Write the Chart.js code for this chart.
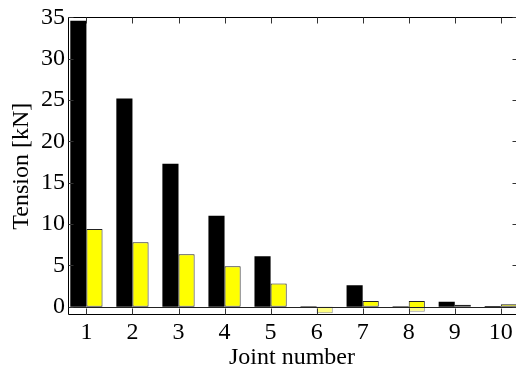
<!DOCTYPE html>
<html>
<head>
<meta charset="utf-8">
<script src="https://cdn.jsdelivr.net/npm/chart.js@4"></script>
<style>
html,body{margin:0;padding:0;background:#fff;}
#wrap{width:516px;height:377px;position:relative;}
</style>
</head>
<body>
<div id="wrap"><canvas id="c" width="516" height="377"></canvas></div>
<script>
const joints = [1, 2, 3, 4, 5, 6, 7, 8, 9, 10];
const blackSeries = [34.6, 25.2, 17.3, 11.0, 6.1, 0.05, 2.6, 0.05, 0.6, 0.1];
const yellowSeries = [9.4, 7.8, 6.35, 4.9, 2.8, -0.8, 0.7, 0.7, 0.25, 0.3];
const yellowBelow = [0, 0, 0, 0, 0, 0, 0, -0.6, 0, 0];
const yTicks = [0, 5, 10, 15, 20, 25, 30, 35];
const xTicks = joints;

const blackData = joints.map((j, i) => ({x: j, y: blackSeries[i]}));
const yellowData = joints.map((j, i) => ({
  x: j,
  y: (yellowBelow[i] < 0 && yellowSeries[i] > 0) ? [yellowBelow[i], yellowSeries[i]] : yellowSeries[i]
}));

const FONT = 'Liberation Serif, Times New Roman, serif';

const framePlugin = {
  id: 'frame',
  afterDatasetsDraw(chart) {
    const {ctx, chartArea: a, scales: {x, y}} = chart;
    ctx.save();
    const y0 = Math.round(y.getPixelForValue(0)) + 0.5;
    // zero line
    ctx.strokeStyle = '#222';
    ctx.lineWidth = 1;
    ctx.beginPath();
    ctx.moveTo(a.left, y0);
    ctx.lineTo(a.right, y0);
    ctx.stroke();
    // lighten region below zero
    ctx.fillStyle = 'rgba(255,255,255,0.5)';
    ctx.fillRect(a.left, y0 + 0.5, a.right - a.left, a.bottom - y0);
    // frame (right side lies just outside the canvas)
    ctx.strokeStyle = '#000';
    const L = Math.round(a.left) + 0.5, R = Math.round(a.right) + 1.5;
    const T = Math.round(a.top) + 0.5, B = Math.round(a.bottom) - 0.5;
    ctx.beginPath();
    ctx.moveTo(R, T); ctx.lineTo(L, T); ctx.lineTo(L, B); ctx.lineTo(R, B);
    ctx.stroke();
    // inward ticks
    ctx.strokeStyle = '#333';
    ctx.beginPath();
    xTicks.forEach(v => {
      const px = Math.round(x.getPixelForValue(v)) + 0.5;
      ctx.moveTo(px, B); ctx.lineTo(px, B - 6);
      ctx.moveTo(px, T); ctx.lineTo(px, T + 6);
    });
    yTicks.forEach(v => {
      const py = Math.round(y.getPixelForValue(v)) + 0.5;
      ctx.moveTo(L, py); ctx.lineTo(L + 5, py);
      ctx.moveTo(R, py); ctx.lineTo(R - 5, py);
    });
    ctx.stroke();
    ctx.restore();
  }
};

new Chart(document.getElementById('c'), {
  type: 'bar',
  data: {
    datasets: [
      {label: 'A', data: blackData, backgroundColor: '#000000', borderColor: '#000000', borderWidth: 0, borderSkipped: false},
      {label: 'B', data: yellowData, backgroundColor: '#ffff00', borderColor: '#222222', borderWidth: 1, borderSkipped: false}
    ]
  },
  options: {
    responsive: false,
    animation: false,
    devicePixelRatio: 1,
    layout: {padding: {top: 14, right: 0, left: 0, bottom: 0}},
    datasets: {bar: {categoryPercentage: 0.7, barPercentage: 1.0}},
    plugins: {legend: {display: false}, tooltip: {enabled: false}},
    scales: {
      x: {
        type: 'linear',
        min: 0.6,
        max: 10.33,
        offset: false,
        grid: {display: false, drawTicks: false},
        border: {display: false},
        afterBuildTicks: s => { s.ticks = xTicks.map(v => ({value: v})); },
        afterFit: s => { s.height = 62; s.paddingRight = 0; s.paddingLeft = 0; },
        ticks: {font: {family: FONT, size: 24}, color: '#000', padding: 3, maxRotation: 0, autoSkip: false},
        title: {display: true, text: 'Joint number', font: {family: FONT, size: 24}, color: '#000', padding: {top: 0, bottom: 5}}
      },
      y: {
        type: 'linear',
        min: -1,
        max: 35,
        grid: {display: false, drawTicks: false},
        border: {display: false},
        afterBuildTicks: s => { s.ticks = yTicks.map(v => ({value: v})); },
        afterFit: s => { s.width = 68; },
        ticks: {font: {family: FONT, size: 24}, color: '#000', padding: 3},
        title: {display: true, text: 'Tension [kN]', font: {family: FONT, size: 24}, color: '#000', padding: {top: 7, bottom: 0}}
      }
    }
  },
  plugins: [framePlugin]
});
</script>
</body>
</html>
